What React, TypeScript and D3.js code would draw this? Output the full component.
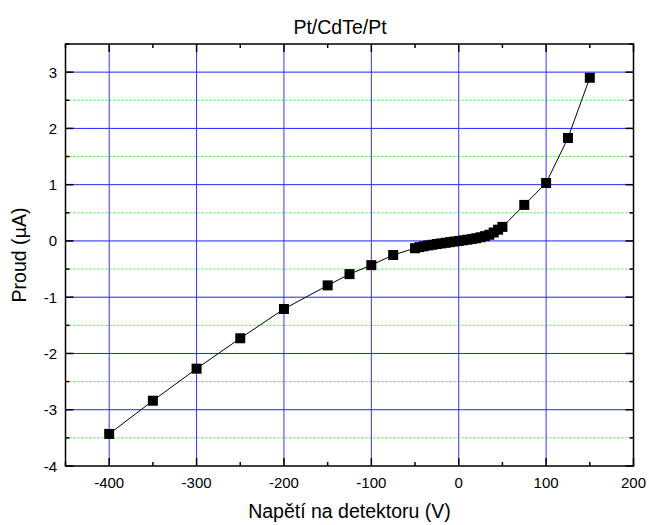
import React from 'react';
import * as d3 from 'd3';

// napeti (V) a proud (uA)
const voltage = [-400, -350, -300, -250, -200, -150, -125, -100, -75, -50, -45, -40, -35, -30, -25, -20, -15, -10, -5, 0, 5, 10, 15, 20, 25, 30, 35, 40, 45, 50, 75, 100, 125, 150];
const current = [-3.43, -2.84, -2.27, -1.73, -1.21, -0.79, -0.59, -0.43, -0.25, -0.13, -0.11, -0.095, -0.08, -0.068, -0.055, -0.044, -0.033, -0.022, -0.011, 0, 0.011, 0.022, 0.034, 0.048, 0.065, 0.085, 0.11, 0.15, 0.2, 0.25, 0.64, 1.03, 1.83, 2.9];

const xMajorTicks = [-400, -300, -200, -100, 0, 100, 200];
const xMinorTicks = [-450, -350, -250, -150, -50, 50, 150];
const yMajorTicks = [-4, -3, -2, -1, 0, 1, 2, 3];
const yMinorTicks = [-3.5, -2.5, -1.5, -0.5, 0.5, 1.5, 2.5, 3.5];

const title = 'Pt/CdTe/Pt';
const xTitle = 'Napětí na detektoru (V)';

const W = 649, H = 525;
const left = 65.5, right = 633.5, top = 44, bottom = 466;

export default function App() {
  const x = d3.scaleLinear().domain([-450, 200]).range([left, right]);
  const y = d3.scaleLinear().domain([-4, 3.5]).range([bottom, top]);
  const pts = voltage.map((v, i) => [v, current[i]] as [number, number]);
  const line = d3.line<[number, number]>().x(d => x(d[0])).y(d => y(d[1]));
  const font = 'Arial, "Liberation Sans", Helvetica, sans-serif';

  return (
    <svg width={W} height={H} style={{ position: 'absolute', left: 0, top: 0, background: '#fff' }} fontFamily={font}>
      {/* mrizka */}
      {yMinorTicks.filter(t => t < 3.5).map(t => (
        <line key={'gy' + t} x1={left} x2={right} y1={y(t)} y2={y(t)} stroke="#33ee33" strokeWidth={1} strokeDasharray="2,2" />
      ))}
      {yMajorTicks.filter(t => t > -4).map(t => (
        <line key={'Gy' + t} x1={left} x2={right} y1={y(t)} y2={y(t)} stroke="#2222ff" strokeWidth={1} />
      ))}
      {xMajorTicks.filter(t => t < 200).map(t => (
        <line key={'Gx' + t} x1={x(t)} x2={x(t)} y1={top} y2={bottom} stroke="#3333ff" strokeWidth={1} />
      ))}

      {/* data */}
      <path d={line(pts) || ''} fill="none" stroke="#000" strokeWidth={1} />
      {pts.map((p, i) => (
        <rect key={i} x={x(p[0]) - 5} y={y(p[1]) - 5} width={10} height={10} fill="#000" />
      ))}

      {/* ramecek a ticky */}
      <rect x={left} y={top} width={right - left} height={bottom - top} fill="none" stroke="#000" strokeWidth={1.5} />
      {xMajorTicks.map(t => (
        <g key={'tx' + t}>
          <line x1={x(t)} x2={x(t)} y1={bottom} y2={bottom - 8} stroke="#000" strokeWidth={1.5} />
          <line x1={x(t)} x2={x(t)} y1={top} y2={top + 8} stroke="#000" strokeWidth={1.5} />
          <text x={x(t)} y={488} textAnchor="middle" fontSize={15}>{t}</text>
        </g>
      ))}
      {xMinorTicks.map(t => (
        <g key={'mx' + t}>
          <line x1={x(t)} x2={x(t)} y1={bottom} y2={bottom - 4} stroke="#000" strokeWidth={1.5} />
          <line x1={x(t)} x2={x(t)} y1={top} y2={top + 4} stroke="#000" strokeWidth={1.5} />
        </g>
      ))}
      {yMajorTicks.map(t => (
        <g key={'ty' + t}>
          <line x1={left} x2={left + 8} y1={y(t)} y2={y(t)} stroke="#000" strokeWidth={1.5} />
          <line x1={right} x2={right - 8} y1={y(t)} y2={y(t)} stroke="#000" strokeWidth={1.5} />
          <text x={57} y={y(t) + 5.5} textAnchor="end" fontSize={15}>{t}</text>
        </g>
      ))}
      {yMinorTicks.map(t => (
        <g key={'my' + t}>
          <line x1={left} x2={left + 4} y1={y(t)} y2={y(t)} stroke="#000" strokeWidth={1.5} />
          <line x1={right} x2={right - 4} y1={y(t)} y2={y(t)} stroke="#000" strokeWidth={1.5} />
        </g>
      ))}

      {/* popisky */}
      <text x={340} y={34} textAnchor="middle" fontSize={19.5}>{title}</text>
      <text x={(left + right) / 2} y={518} textAnchor="middle" fontSize={19.5}>{xTitle}</text>
      <text transform={`translate(26,${(top + bottom) / 2}) rotate(-90)`} textAnchor="middle" fontSize={19.5}>
        Proud (<tspan fontFamily='"DejaVu Sans", sans-serif' fontSize={18}>μ</tspan>A)
      </text>
    </svg>
  );
}
